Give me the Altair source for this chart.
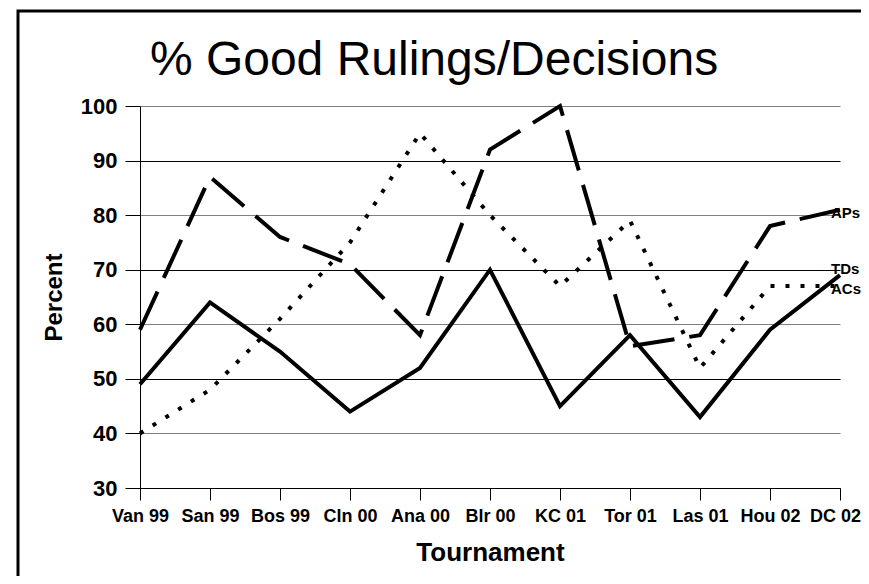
import altair as alt
import pandas as pd

tournaments = ["Van 99", "San 99", "Bos 99", "Cln 00", "Ana 00", "Blr 00",
               "KC 01", "Tor 01", "Las 01", "Hou 02", "DC 02"]
tds = [49, 64, 55, 44, 52, 70, 45, 58, 43, 59, 69]
aps = [59, 87, 76, 71, 58, 92, 100, 56, 58, 78, 81]
acs = [40, 48, 61, 75, 95, 80, 67, 79, 52, 67, 67]
y_ticks = [30, 40, 50, 60, 70, 80, 90, 100]
title_text = "% Good Rulings/Decisions"

rows = []
for name, vals in [("TDs", tds), ("APs", aps), ("ACs", acs)]:
    for t, v in zip(tournaments, vals):
        rows.append({"Tournament": t, "Percent": v, "Series": name})
df = pd.DataFrame(rows)

FONT = "Liberation Sans"

xenc = alt.X("Tournament:N", sort=tournaments,
             scale=alt.Scale(type="point", padding=0),
             axis=alt.Axis(title="Tournament", labelAngle=0, tickSize=12,
                           labelPadding=7, labelFontSize=18,
                           labelOffset={"condition": {"test": "datum.value === 'DC 02'",
                                                      "value": -5},
                                        "value": 0},
                           labelFontWeight="bold", titleFontSize=26,
                           titleFontWeight="bold", titleY=64,
                           titleBaseline="middle", grid=False))
yenc = alt.Y("Percent:Q", scale=alt.Scale(domain=[30, 100], nice=False),
             axis=alt.Axis(title="Percent", values=y_ticks, tickSize=15,
                           labelPadding=8, labelFontSize=22,
                           labelFontWeight="bold", titleFontSize=24,
                           titleFontWeight="bold", titleX=-86,
                           titleBaseline="middle", grid=True,
                           gridColor={"condition": {"test": "datum.value % 20 === 0",
                                                    "value": "#808080"},
                                      "value": "#000000"},
                           gridWidth=1.2))

base = alt.Chart(df)

one = pd.DataFrame({"t": [title_text]})

frame = alt.Chart(one).mark_rect(
    fill=None, stroke="black", strokeWidth=3
).encode(x=alt.value(-122), x2=alt.value(760), y=alt.value(-95), y2=alt.value(520))

title = alt.Chart(one).mark_text(
    align="center", baseline="alphabetic", font=FONT, fontSize=48,
    color="black"
).encode(x=alt.value(294), y=alt.value(-31), text="t:N")

line_tds = base.transform_filter("datum.Series == 'TDs'").mark_line(
    color="black", strokeWidth=4).encode(x=xenc, y=yenc)
line_aps = base.transform_filter("datum.Series == 'APs'").mark_line(
    color="black", strokeWidth=4, strokeDash=[42, 15]).encode(x=xenc, y=yenc)
line_acs = base.transform_filter("datum.Series == 'ACs'").mark_line(
    color="black", strokeWidth=4, strokeDash=[4, 11]).encode(x=xenc, y=yenc)

last = df[df["Tournament"] == tournaments[-1]]
lab = alt.Chart(last)
lab_aps = lab.transform_filter("datum.Series == 'APs'").mark_text(
    align="left", baseline="middle", dx=-9, dy=3, font=FONT, fontSize=15,
    fontWeight="bold", color="black").encode(x=xenc, y=yenc, text="Series:N")
lab_tds = lab.transform_filter("datum.Series == 'TDs'").mark_text(
    align="left", baseline="middle", dx=-9, dy=-6, font=FONT, fontSize=15,
    fontWeight="bold", color="black").encode(x=xenc, y=yenc, text="Series:N")
lab_acs = lab.transform_filter("datum.Series == 'ACs'").mark_text(
    align="left", baseline="middle", dx=-9, dy=3, font=FONT, fontSize=15,
    fontWeight="bold", color="black").encode(x=xenc, y=yenc, text="Series:N")

chart = alt.layer(frame, title, line_acs, line_aps, line_tds,
                  lab_aps, lab_tds, lab_acs).properties(
    width=700, height=382,
    autosize=alt.AutoSizeParams(type="none"),
    padding={"left": 132, "top": 98, "right": 21, "bottom": 88},
).configure(font=FONT).configure_axis(
    domainColor="black", tickColor="black", labelColor="black",
    titleColor="black", labelFont=FONT, titleFont=FONT
).configure_view(strokeWidth=0)

chart.save("out.html", embed_options={"renderer": "svg", "actions": False})
